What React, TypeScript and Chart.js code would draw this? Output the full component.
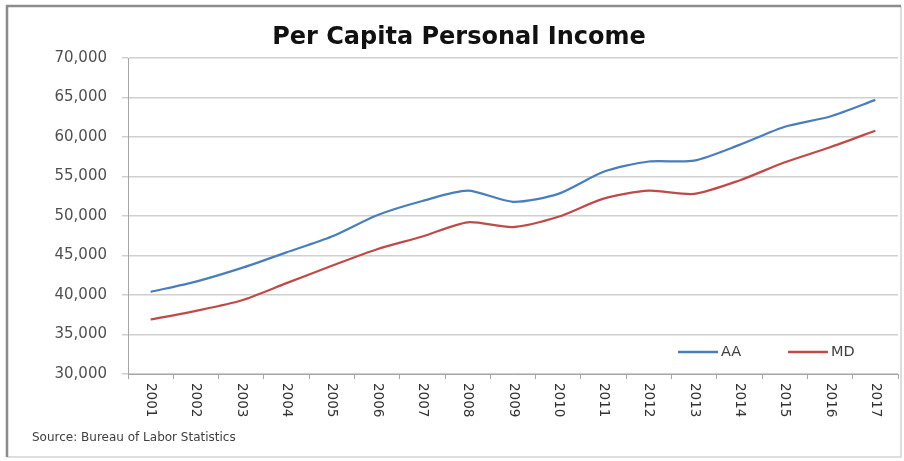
import React, { useEffect, useRef } from "react";
import { Chart, registerables } from "chart.js";

Chart.register(...registerables);

const years = ["2001","2002","2003","2004","2005","2006","2007","2008","2009","2010","2011","2012","2013","2014","2015","2016","2017"];
const aaValues = [40400, 41700, 43400, 45400, 47400, 50100, 51900, 53200, 51800, 52800, 55600, 56900, 57000, 59000, 61300, 62600, 64700];
const mdValues = [36900, 38000, 39300, 41500, 43700, 45800, 47400, 49200, 48600, 49900, 52200, 53200, 52800, 54500, 56800, 58700, 60800];
const seriesNames = ["AA", "MD"];
const seriesColors = ["#4a7ebb", "#be4b48"];
const titleText = "Per Capita Personal Income";
const sourceText = "Source: Bureau of Labor Statistics";

const FONT = "'DejaVu Sans'";

const decorPlugin = {
  id: "decor",
  beforeDraw(chart: any) {
    const { ctx, width, height } = chart;
    ctx.save();
    ctx.fillStyle = "#ffffff";
    ctx.fillRect(0, 0, width, height);
    ctx.restore();
  },
  afterDraw(chart: any) {
    const { ctx, width, height } = chart;
    const xs = chart.scales.x;
    ctx.save();
    // frame
    ctx.strokeStyle = "#d4d4d4";
    ctx.lineWidth = 1.5;
    ctx.beginPath();
    ctx.moveTo(width - 3, 6);
    ctx.lineTo(width - 3, height - 4);
    ctx.lineTo(7, height - 4);
    ctx.stroke();
    ctx.strokeStyle = "#8c8c8c";
    ctx.lineWidth = 2.5;
    ctx.beginPath();
    ctx.moveTo(7, height - 4);
    ctx.lineTo(7, 6);
    ctx.lineTo(width - 3, 6);
    ctx.stroke();

    // x labels, reading top to bottom
    ctx.fillStyle = "#333333";
    ctx.font = "13.5px " + FONT;
    ctx.textAlign = "left";
    ctx.textBaseline = "middle";
    years.forEach((lab, i) => {
      const x = xs.getPixelForValue(i);
      ctx.save();
      ctx.translate(x, xs.top + 9);
      ctx.rotate(Math.PI / 2);
      ctx.fillText(lab, 0, 0);
      ctx.restore();
    });

    // legend inside plot
    const ys = chart.scales.y;
    const ly = ys.getPixelForValue(32800);
    const legendX = [678, 788];
    ctx.font = "14.5px " + FONT;
    ctx.textBaseline = "middle";
    chart.data.datasets.forEach((ds: any, i: number) => {
      const x0 = legendX[i];
      ctx.strokeStyle = ds.borderColor;
      ctx.lineWidth = 2.5;
      ctx.beginPath();
      ctx.moveTo(x0, ly);
      ctx.lineTo(x0 + 40, ly);
      ctx.stroke();
      ctx.fillStyle = "#404040";
      ctx.fillText(ds.label, x0 + 43, ly);
    });

    // title
    ctx.fillStyle = "#111111";
    ctx.font = "bold 24px " + FONT;
    ctx.textAlign = "center";
    ctx.textBaseline = "middle";
    ctx.fillText(titleText, 459, 38);

    // source
    ctx.fillStyle = "#404040";
    ctx.font = "12px " + FONT;
    ctx.textAlign = "left";
    ctx.fillText(sourceText, 32, 438);
    ctx.restore();
  },
};

export default function App() {
  const ref = useRef<HTMLCanvasElement | null>(null);
  useEffect(() => {
    if (!ref.current) return;
    const chart = new Chart(ref.current, {
      type: "line",
      data: {
        labels: years,
        datasets: [
          { label: seriesNames[0], data: aaValues, borderColor: seriesColors[0], backgroundColor: seriesColors[0], borderWidth: 2.2, pointRadius: 0, tension: 0.25, fill: false },
          { label: seriesNames[1], data: mdValues, borderColor: seriesColors[1], backgroundColor: seriesColors[1], borderWidth: 2.2, pointRadius: 0, tension: 0.25, fill: false },
        ],
      },
      options: {
        animation: false,
        responsive: false,
        maintainAspectRatio: false,
        layout: { padding: { left: 0, right: 6, top: 58, bottom: 0 } },
        plugins: { legend: { display: false }, title: { display: false }, tooltip: { enabled: false } },
        scales: {
          x: {
            type: "category",
            offset: true,
            afterFit: (s: any) => { s.height = 87; },
            grid: { display: true, drawOnChartArea: false, offset: true, tickLength: 5, color: "#a6a6a6" },
            border: { color: "#a6a6a6", width: 1 },
            ticks: { display: false },
          },
          y: {
            min: 30000,
            max: 70000,
            afterFit: (s: any) => { s.width = 128; },
            ticks: {
              stepSize: 5000,
              padding: 15,
              color: "#505050",
              font: { family: FONT, size: 15 },
              callback: (v: any) => Number(v).toLocaleString("en-US"),
            },
            grid: { color: "#d0d0d0", lineWidth: 1.5, tickLength: 6 },
            border: { color: "#a6a6a6", width: 1 },
          },
        },
      },
      plugins: [decorPlugin],
    });
    return () => chart.destroy();
  }, []);
  return (
    <div style={{ position: "absolute", left: 0, top: 0, width: 904, height: 461 }}>
      <canvas ref={ref} width={904} height={461} style={{ width: 904, height: 461, display: "block" }} />
    </div>
  );
}
